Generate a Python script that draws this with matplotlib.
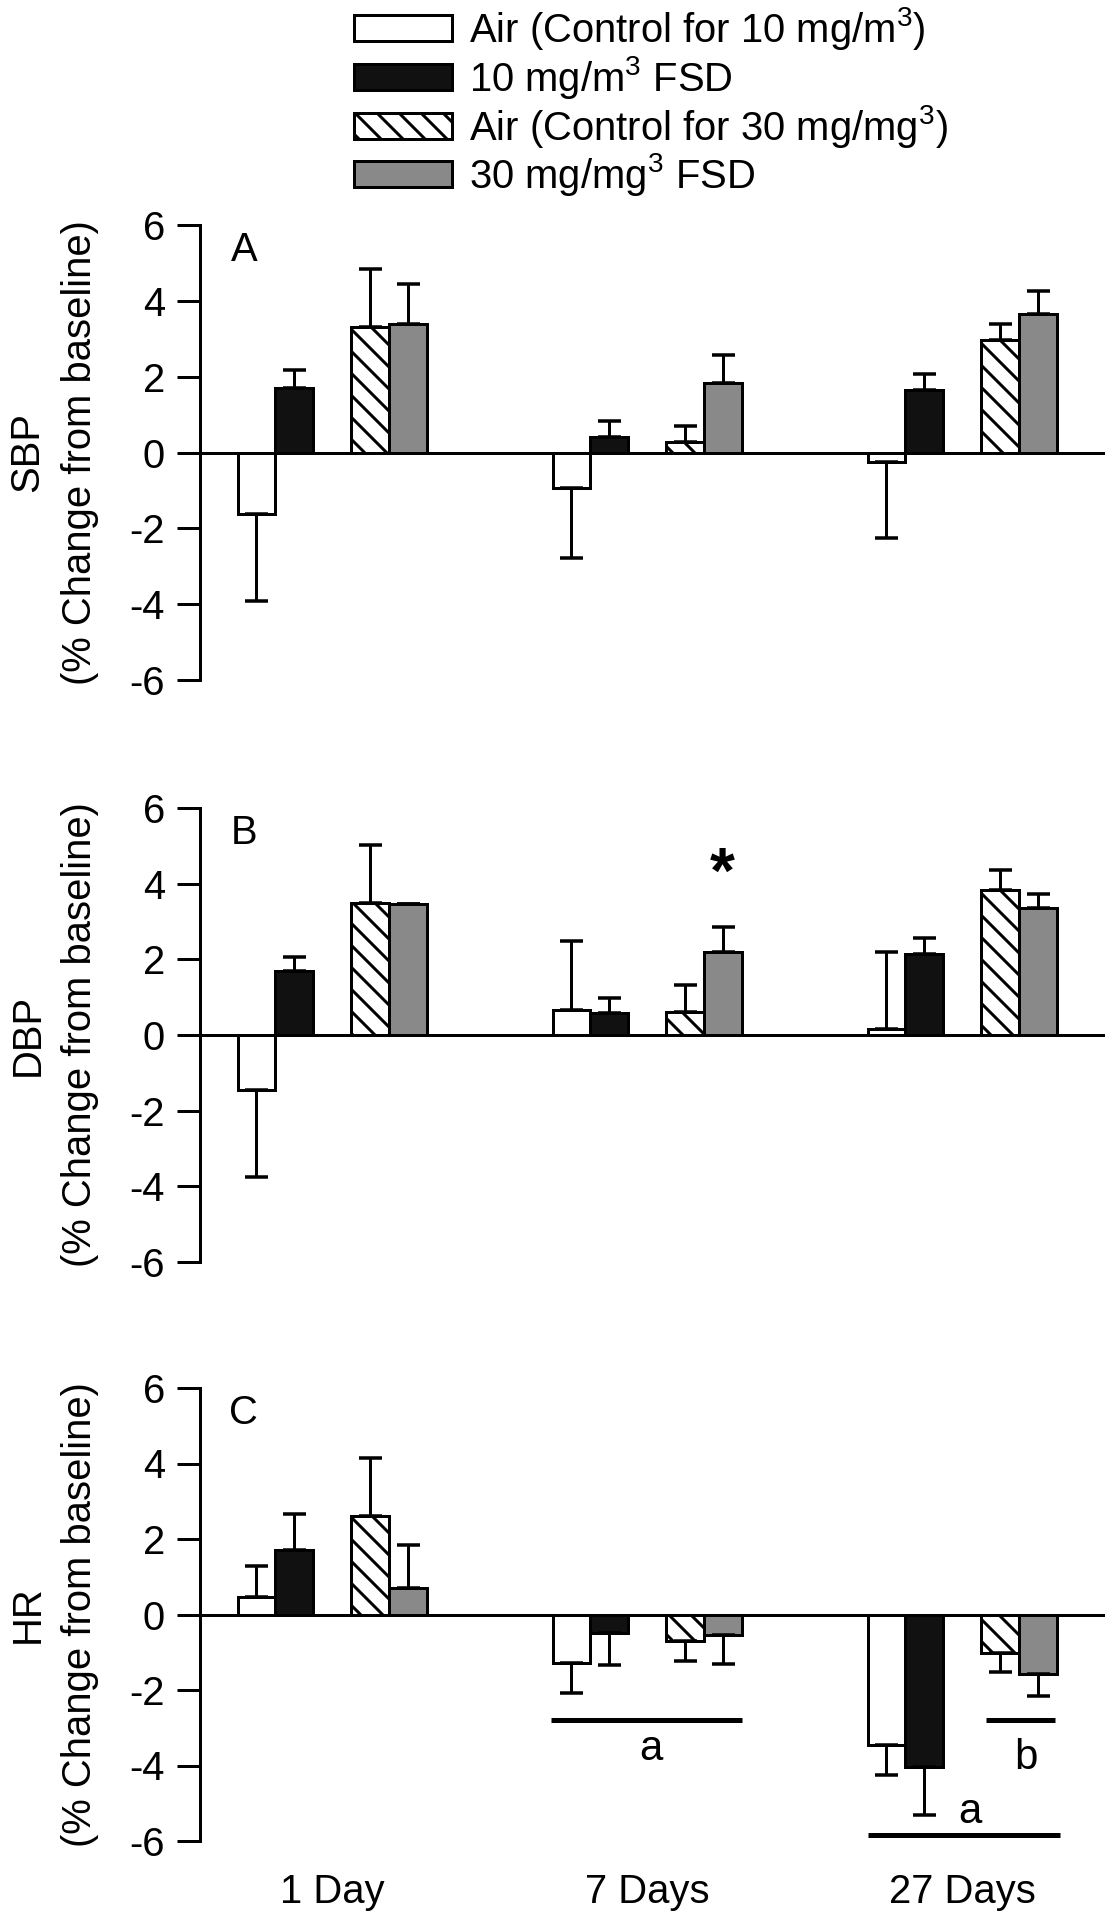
import matplotlib
matplotlib.use("Agg")
import matplotlib.pyplot as plt
from matplotlib.patches import Rectangle
import numpy as np

# ---------------- data ----------------
groups = ["1 Day", "7 Days", "27 Days"]
series = [r"Air (Control for 10 mg/m$\mathregular{^3}$)",
          r"10 mg/m$\mathregular{^3}$ FSD",
          r"Air (Control for 30 mg/mg$\mathregular{^3}$)",
          r"30 mg/mg$\mathregular{^3}$ FSD"]

sbp_air10 = [-1.63, -0.93, -0.25]
sbp_fsd10 = [1.71, 0.40, 1.65]
sbp_air30 = [3.30, 0.29, 2.98]
sbp_fsd30 = [3.38, 1.83, 3.65]
sbp_air10_err = [2.28, 1.86, 2.00]
sbp_fsd10_err = [0.46, 0.44, 0.42]
sbp_air30_err = [1.54, 0.41, 0.40]
sbp_fsd30_err = [1.06, 0.73, 0.60]

dbp_air10 = [-1.46, 0.65, 0.17]
dbp_fsd10 = [1.69, 0.59, 2.15]
dbp_air30 = [3.49, 0.61, 3.83]
dbp_fsd30 = [3.47, 2.20, 3.35]
dbp_air10_err = [2.30, 1.83, 2.02]
dbp_fsd10_err = [0.37, 0.38, 0.41]
dbp_air30_err = [1.54, 0.70, 0.52]
dbp_fsd30_err = [0.00, 0.65, 0.37]

hr_air10 = [0.46, -1.28, -3.45]
hr_fsd10 = [1.71, -0.50, -4.05]
hr_air30 = [2.62, -0.70, -1.02]
hr_fsd30 = [0.70, -0.53, -1.57]
hr_air10_err = [0.82, 0.80, 0.80]
hr_fsd10_err = [0.94, 0.85, 1.25]
hr_air30_err = [1.53, 0.54, 0.49]
hr_fsd30_err = [1.15, 0.77, 0.58]

yticks = [-6, -4, -2, 0, 2, 4, 6]
panel_letters = ["A", "B", "C"]
ylabels = ["SBP\n(% Change from baseline)", "DBP\n(% Change from baseline)",
           "HR\n(% Change from baseline)"]

# ---------------- styles ----------------
W, H = 1113, 1920
DPI = 132
def pt(px):
    return px * 72.0 / DPI

FS = pt(40)
LW = pt(3)
facecolors = ["white", "#111111", "white", "#898989"]
hatches = [None, None, "\\\\", None]
offsets = [-2, -1, 1, 2]
BW = 0.12

plt.rcParams["font.family"] = ["Liberation Sans", "DejaVu Sans"]
plt.rcParams["mathtext.fontset"] = "custom"
plt.rcParams["mathtext.rm"] = "Liberation Sans"
plt.rcParams["mathtext.default"] = "regular"
plt.rcParams["hatch.linewidth"] = pt(3)
plt.rcParams["hatch.color"] = "black"

fig = plt.figure(figsize=(W / DPI, H / DPI), dpi=DPI)

left_px, right_px = 200, 1105
left = left_px / W
width = (right_px - left_px) / W
axes_px = [(225, 680), (808, 1262), (1388, 1841)]

panels = [
    ([sbp_air10, sbp_fsd10, sbp_air30, sbp_fsd30],
     [sbp_air10_err, sbp_fsd10_err, sbp_air30_err, sbp_fsd30_err]),
    ([dbp_air10, dbp_fsd10, dbp_air30, dbp_fsd30],
     [dbp_air10_err, dbp_fsd10_err, dbp_air30_err, dbp_fsd30_err]),
    ([hr_air10, hr_fsd10, hr_air30, hr_fsd30],
     [hr_air10_err, hr_fsd10_err, hr_air30_err, hr_fsd30_err]),
]

x = np.arange(len(groups))
axes = []
for p, ((top, bot), (means, errs)) in enumerate(zip(axes_px, panels)):
    ax = fig.add_axes([left, 1 - bot / H, width, (bot - top) / H])
    axes.append(ax)
    for s in range(4):
        m = np.array(means[s])
        e = np.array(errs[s])
        xs = x + offsets[s] * BW
        ax.bar(xs, m, width=BW, color=facecolors[s], edgecolor="black",
               linewidth=LW, hatch=hatches[s], zorder=2)
        lower = np.where(m < 0, e, 0)
        upper = np.where(m >= 0, e, 0)
        ax.errorbar(xs, m, yerr=[lower, upper], fmt="none", ecolor="black",
                    elinewidth=LW, capsize=pt(11.5), capthick=pt(3.5), zorder=3)
    ax.axhline(0, color="black", linewidth=LW, zorder=4)
    ax.set_xlim((left_px - 332) / 315, (right_px - 332) / 315)
    ax.set_ylim(-6, 6)
    ax.set_yticks(yticks)
    ax.set_yticklabels([str(t) for t in yticks], fontsize=FS)
    for sp in ["top", "right", "bottom"]:
        ax.spines[sp].set_visible(False)
    ax.spines["left"].set_linewidth(LW)
    ax.tick_params(axis="y", direction="out", length=pt(23), width=LW, pad=pt(12))
    ax.tick_params(axis="x", length=0)
    ax.text(-0.28, 5.35, panel_letters[p], fontsize=FS, ha="center", va="center")
    yc = 1 - ((top + bot) / 2) / H
    fig.text(54 / W, yc, ylabels[p], rotation=90, ha="center", va="center",
             fontsize=FS, multialignment="center", linespacing=1.5)
    if p < 2:
        ax.set_xticks([])
    else:
        ax.set_xticks(x)
        ax.set_xticklabels(groups, fontsize=FS)
        ax.tick_params(axis="x", pad=pt(32))

# significance marks
axes[1].text(1 + 2 * BW, 4.2, "*", fontsize=pt(64), fontweight="bold",
             ha="center", va="center")
axc = axes[2]
LW2 = pt(5)
FA = pt(42)
axc.plot([1 - 2.53 * BW, 1 + 2.5 * BW], [-2.8, -2.8], color="black", lw=LW2,
         solid_capstyle="butt")
axc.text(1 + 0.1 * BW, -3.55, "a", fontsize=FA, ha="center", va="center")
axc.plot([2 + 0.63 * BW, 2 + 2.45 * BW], [-2.8, -2.8], color="black", lw=LW2,
         solid_capstyle="butt")
axc.text(2 + 1.68 * BW, -3.8, "b", fontsize=FA, ha="center", va="center")
axc.plot([2 - 2.5 * BW, 2 + 2.6 * BW], [-5.85, -5.85], color="black", lw=LW2,
         solid_capstyle="butt", clip_on=False)
axc.text(2 + 0.2 * BW, -5.22, "a", fontsize=FA, ha="center", va="center")

# legend (manual)
row_y = [28, 77, 126, 174]
for i in range(4):
    r = Rectangle((354 / W, 1 - (row_y[i] + 12.5) / H), 98 / W, 25 / H,
                  transform=fig.transFigure, facecolor=facecolors[i],
                  edgecolor="black", linewidth=LW, hatch=hatches[i])
    fig.patches.append(r)
    fig.text(469 / W, 1 - (row_y[i] + 14) / H, series[i], fontsize=FS,
             ha="left", va="baseline")

fig.savefig("out.png", dpi=DPI)
